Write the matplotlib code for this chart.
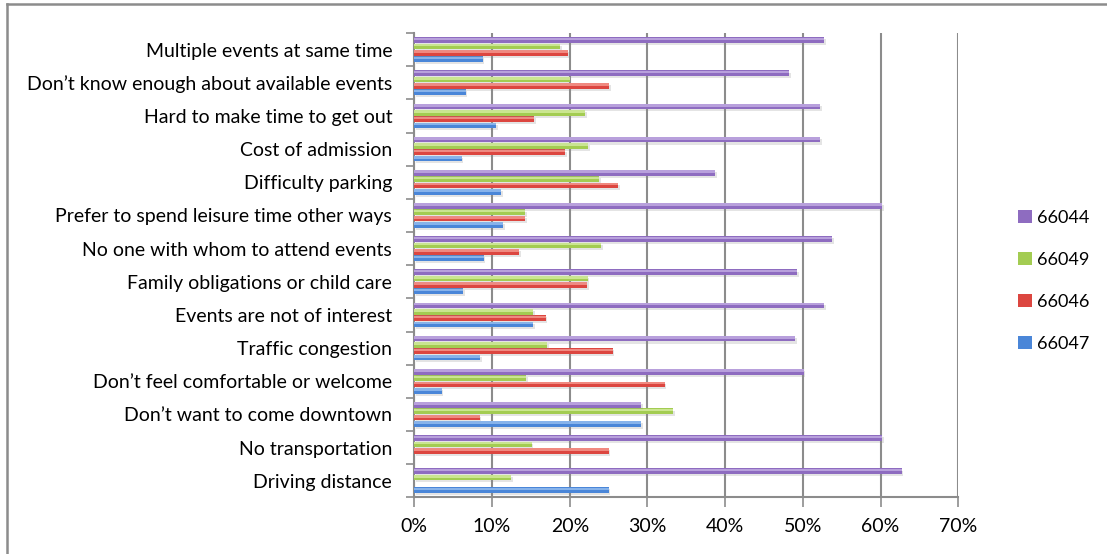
import numpy as np
import matplotlib
matplotlib.use('Agg')
from matplotlib import pyplot as plt
from matplotlib import patheffects as pe
from matplotlib.patches import Patch
from matplotlib.lines import Line2D
from matplotlib.ticker import PercentFormatter, FixedLocator

plt.rcParams['font.family'] = ['Lato', 'DejaVu Sans']

categories = ['Driving distance', 'No transportation', 'Don’t want to come downtown',
              'Don’t feel comfortable or welcome', 'Traffic congestion',
              'Events are not of interest', 'Family obligations or child care',
              'No one with whom to attend events', 'Prefer to spend leisure time other ways',
              'Difficulty parking', 'Cost of admission', 'Hard to make time to get out',
              'Don’t know enough about available events', 'Multiple events at same time']

zip_66047 = [25.0, 0.0, 29.2, 3.5, 8.5, 15.3, 6.3, 8.9, 11.4, 11.2, 6.1, 10.5, 6.6, 8.8]
zip_66046 = [0.0, 25.0, 8.4, 32.2, 25.5, 16.9, 22.2, 13.5, 14.3, 26.2, 19.4, 15.4, 25.1, 19.8]
zip_66049 = [12.5, 15.1, 33.3, 14.4, 17.1, 15.3, 22.3, 24.0, 14.3, 23.8, 22.4, 22.0, 20.0, 18.8]
zip_66044 = [62.7, 60.2, 29.2, 50.1, 49.0, 52.7, 49.3, 53.8, 60.2, 38.7, 52.2, 52.2, 48.2, 52.7]

series = [('66047', zip_66047, '#4a86d8', '#9cc3f2'),
          ('66046', zip_66046, '#dc4640', '#f7a097'),
          ('66049', zip_66049, '#a3cc52', '#d9f0a6'),
          ('66044', zip_66044, '#8e6cc0', '#c7b2e6')]

fig = plt.figure(figsize=(11.07, 5.54), dpi=100)
ax = fig.add_axes([0.3743, 0.1023, 0.4914, 0.8381])

y = np.arange(len(categories))
step = 0.19
h = 0.17
shadow = [pe.SimplePatchShadow(offset=(1.2, -1.5), shadow_rgbFace='#888888', alpha=0.22), pe.Normal()]

for i, (name, vals, dark, light) in enumerate(series):
    off = (i - 1.5) * step
    ax.barh(y + off, vals, height=h, color=dark, edgecolor='none', path_effects=shadow, zorder=3)
    ax.barh(y + off + h * 0.22, vals, height=h * 0.45, color=light, edgecolor='none', alpha=0.75, zorder=4)

ax.set_xlim(0, 70)
ax.set_ylim(-0.5, len(categories) - 0.5)
ax.xaxis.set_major_locator(FixedLocator(np.arange(0, 71, 10)))
ax.xaxis.set_major_formatter(PercentFormatter(decimals=0))
ax.grid(axis='x', color='#8c8c8c', linewidth=1.5)
ax.set_axisbelow(True)

ax.set_yticks(y)
ax.set_yticklabels(categories)
ax.set_yticks(np.arange(-0.5, len(categories), 1), minor=True)
ax.tick_params(axis='y', which='major', length=0, pad=16, labelsize=14)
ax.tick_params(axis='y', which='minor', length=6, width=1.2, color='#8c8c8c')
ax.tick_params(axis='x', length=7, width=1.2, color='#8c8c8c', pad=8, labelsize=14)

for side in ['top', 'right']:
    ax.spines[side].set_visible(False)
for side in ['left', 'bottom']:
    ax.spines[side].set_color('#8c8c8c')
    ax.spines[side].set_linewidth(1.5)

handles = [Patch(facecolor=dark, edgecolor='none', label=name) for name, _, dark, _ in series[::-1]]
fig.legend(handles=handles, loc='upper left', bbox_to_anchor=(0.905, 0.651), frameon=False,
           fontsize=13, handlelength=0.75, handleheight=0.75, handletextpad=0.3, labelspacing=1.45)

# outer chart frame
fig.add_artist(Line2D([0.0063, 1.0], [0.9928, 0.9928], color='#8c8c8c', linewidth=1.8))
fig.add_artist(Line2D([0.0063, 0.0063], [0.0, 0.9928], color='#8c8c8c', linewidth=1.8))

fig.savefig('out.png', dpi=100)
